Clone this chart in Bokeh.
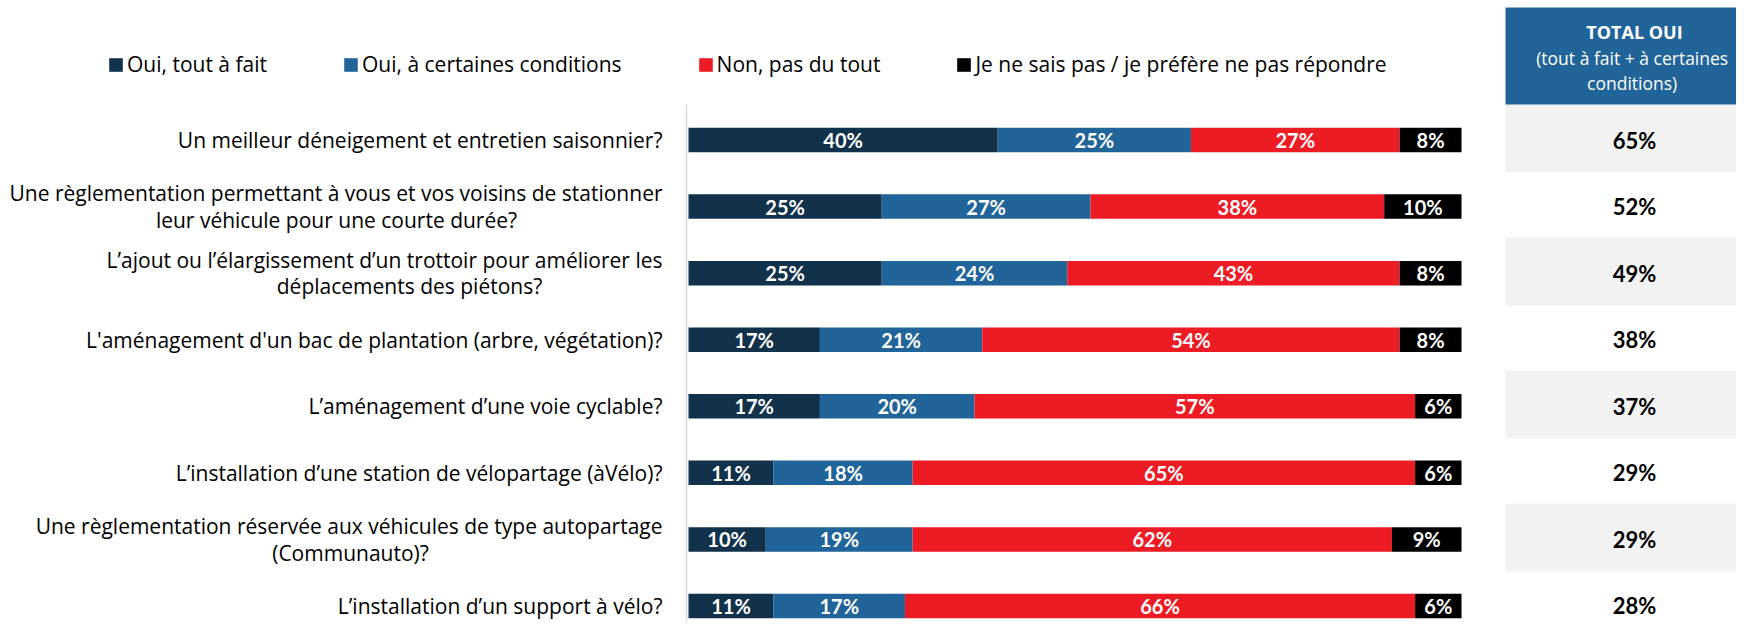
from bokeh.plotting import figure
from bokeh.models import ColumnDataSource, Range1d, Legend, LegendItem
from bokeh.core.properties import value
from bokeh.embed import file_html
from bokeh.resources import INLINE

# ---------------- data ----------------
questions = [
    "Un meilleur déneigement et entretien saisonnier?",
    "Une règlementation permettant à vous et vos voisins de stationner\nleur véhicule pour une courte durée?",
    "L’ajout ou l’élargissement d’un trottoir pour améliorer les\ndéplacements des piétons?",
    "L'aménagement d'un bac de plantation (arbre, végétation)?",
    "L’aménagement d’une voie cyclable?",
    "L’installation d’une station de vélopartage (àVélo)?",
    "Une règlementation réservée aux véhicules de type autopartage\n(Communauto)?",
    "L’installation d’un support à vélo?",
]
oui_tout = [40, 25, 25, 17, 17, 11, 10, 11]
oui_cond = [25, 27, 24, 21, 20, 18, 19, 17]
non_pas = [27, 38, 43, 54, 57, 65, 62, 66]
nsp = [8, 10, 8, 8, 6, 6, 9, 6]
total_oui = [65, 52, 49, 38, 37, 29, 29, 28]
series_labels = ["Oui, tout à fait", "Oui, à certaines conditions",
                 "Non, pas du tout", "Je ne sais pas / je préfère ne pas répondre"]
header_title = "TOTAL OUI"
header_sub = ["(tout à fait + à certaines", "conditions)"]

# ---------------- style / layout ----------------
colors = ["#12314b", "#21649a", "#ed1c24", "#000000"]
header_color = "#21649a"
band_color = "#f2f2f2"
FONT = "Open Sans"
FONT_NUM = "Lato"

W, H = 1736, 621
PX_PER_PCT = 7.73      # screen px per percentage point
X0_PX = 688            # screen x of 0 %
ROW0_PX = 139.5        # screen y of first row centre
ROW_PX = 66.57         # screen px between rows
LABEL_RIGHT_PX = 662   # right edge of the question labels
LINE_GAP = 0.20        # half distance between the two lines of a label, in rows
# screen x of the centre of a wrapped label's first line (second line is centred under it)
WRAP_CENTER_PX = {1: 336, 2: 409, 6: 350}


def xd(px):
    return (px - X0_PX) / PX_PER_PCT


def yd(px):
    return (px - ROW0_PX) / ROW_PX


n = len(questions)
rows = list(range(n))
keys = ["tout", "cond", "non", "nsp"]

src = ColumnDataSource(dict(y=rows, tout=oui_tout, cond=oui_cond, non=non_pas, nsp=nsp))

p = figure(width=W, height=H,
           x_range=Range1d(xd(0), xd(W)), y_range=Range1d(yd(H), yd(0)),
           output_backend="svg", toolbar_location=None, min_border=0,
           x_axis_location=None, y_axis_location=None)
p.outline_line_color = None
p.grid.visible = False
p.background_fill_color = "white"
p.border_fill_color = "white"

# total column: header + alternating bands
TX0, TX1, TXC = xd(1505), xd(1800), xd(1634)
BAND_TOP = -0.535
BAND_BOT = 0.485
band_rows = [i for i in rows if i % 2 == 0]
p.quad(left=TX0, right=TX1, top=[i + BAND_TOP for i in band_rows], bottom=[i + BAND_BOT for i in band_rows],
       fill_color=band_color, line_color=None)
p.quad(left=[TX0], right=[TX1], top=[yd(7)], bottom=[BAND_TOP], fill_color=header_color, line_color=None)

# vertical axis line
p.segment(x0=[xd(686)], y0=[BAND_TOP], x1=[xd(686)], y1=[yd(700)], line_color="#d9d9d9", line_width=1.5)

# stacked bars
renderers = p.hbar_stack(keys, y="y", height=0.368, color=colors, source=src, line_color=None)

# segment labels
lx, ly, lt = [], [], []
for i in rows:
    left = 0
    for arr in (oui_tout, oui_cond, non_pas, nsp):
        v = arr[i]
        lx.append(left + v / 2)
        ly.append(i)
        lt.append(f"{v}%")
        left += v
p.text(x=lx, y=ly, text=lt, text_align="center", text_baseline="middle",
       text_font=value(FONT_NUM), text_font_style="bold", text_font_size="20px", text_color="white")

# category labels (one text per line)
rx, ry, rt = [], [], []   # right aligned lines
cx, cy, ct = [], [], []   # centred second lines
for i, q in enumerate(questions):
    lines = q.split("\n")
    if len(lines) == 1:
        rx.append(xd(LABEL_RIGHT_PX)); ry.append(i); rt.append(lines[0])
    else:
        rx.append(xd(LABEL_RIGHT_PX)); ry.append(i - LINE_GAP); rt.append(lines[0])
        cx.append(xd(WRAP_CENTER_PX[i])); cy.append(i + LINE_GAP); ct.append(lines[1])
p.text(x=rx, y=ry, text=rt, text_align="right", text_baseline="middle",
       text_font=value(FONT), text_font_size="21px", text_color="#000000")
p.text(x=cx, y=cy, text=ct, text_align="center", text_baseline="middle",
       text_font=value(FONT), text_font_size="21px", text_color="#000000")

# totals
p.text(x=[TXC] * n, y=rows, text=[f"{v}%" for v in total_oui], text_align="center",
       text_baseline="middle", text_font=value(FONT_NUM), text_font_style="bold",
       text_font_size="22px", text_color="#000000")

# header text
p.text(x=[TXC], y=[yd(31)], text=[header_title], text_align="center", text_baseline="middle",
       text_font=value(FONT), text_font_style="bold", text_font_size="18px", text_color="white")
p.text(x=[TXC - 0.3, TXC - 0.3], y=[yd(57), yd(82)], text=header_sub, text_align="center",
       text_baseline="middle", text_font=value(FONT), text_font_size="17.5px", text_color="white")

# legend
items = [LegendItem(label=l, renderers=[r]) for l, r in zip(series_labels, renderers)]
legend = Legend(items=items, orientation="horizontal", location=(107, 543), spacing=75,
                glyph_width=17, glyph_height=17, label_standoff=3, padding=0, margin=0,
                border_line_color=None, background_fill_alpha=0,
                label_text_font=FONT, label_text_font_size="21px", label_text_color="#000000")
p.add_layout(legend)

open("out.html", "w").write(file_html(p, INLINE))
